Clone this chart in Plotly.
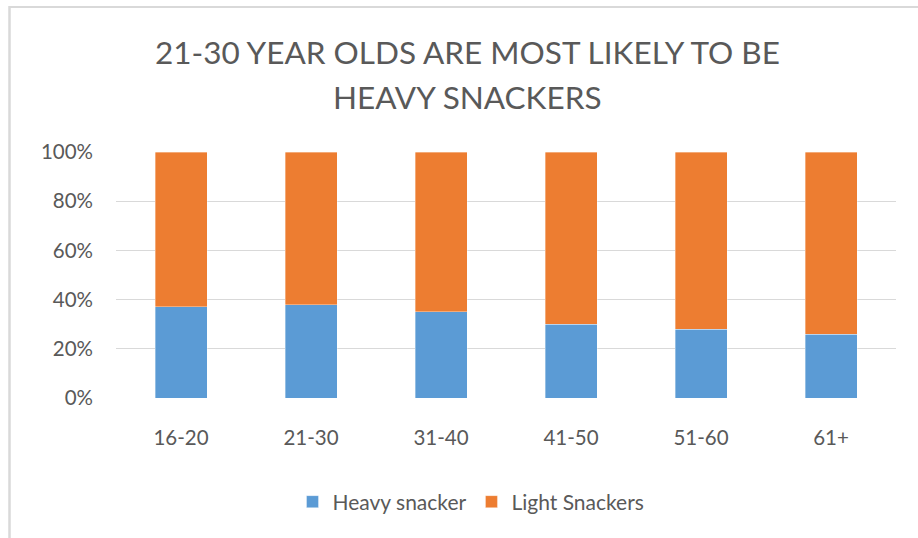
import plotly.graph_objects as go

categories = ["16-20", "21-30", "31-40", "41-50", "51-60", "61+"]
heavy = [37, 38, 35, 30, 28, 26]
light = [63, 62, 65, 70, 72, 74]
tick_vals = [0, 20, 40, 60, 80, 100]
tick_text = ["0%", "20%", "40%", "60%", "80%", "100%"]
title_lines = ["21-30 YEAR OLDS ARE MOST LIKELY TO BE", "HEAVY SNACKERS"]

W, H = 918, 538
L, R, T, B = 116, 22, 152, 140
pw, ph = W - L - R, H - T - B

def px(x):
    return (x - L) / pw

def py(y):
    return (H - B - y) / ph

font = "Lato, Carlito, Calibri, sans-serif"
grey = "#595959"

fig = go.Figure()
fig.add_trace(go.Bar(x=categories, y=heavy, name="Heavy snacker",
                     marker=dict(color="#5B9BD5", line=dict(color="rgba(255,255,255,0.5)", width=0.7))))
fig.add_trace(go.Bar(x=categories, y=light, name="Light Snackers",
                     marker=dict(color="#ED7D31", line=dict(color="rgba(255,255,255,0.5)", width=0.7))))

annotations = []
for i, line in enumerate(title_lines):
    annotations.append(dict(text=line, xref="paper", yref="paper",
                            x=px(467), y=py(52 + 45 * i), xanchor="center", yanchor="middle",
                            showarrow=False, font=dict(family=font, size=31.5, color=grey)))

fig.update_layout(
    width=W, height=H,
    barmode="stack", bargap=0.6,
    paper_bgcolor="white", plot_bgcolor="white",
    margin=dict(l=L, r=R, t=T, b=B),
    font=dict(family=font, color=grey),
    showlegend=True,
    legend=dict(orientation="h", x=471 / W, xanchor="center", xref="container",
                y=1 - 502 / H, yref="container", yanchor="middle",
                font=dict(family=font, size=21, color=grey),
                itemwidth=30, traceorder="normal"),
    xaxis=dict(showgrid=False, showline=False, ticks="",
               tickfont=dict(family=font, size=20.5, color=grey)),
    yaxis=dict(range=[0, 100], tickvals=tick_vals, ticktext=tick_text,
               showgrid=True, gridcolor="#D9D9D9", gridwidth=1.4,
               zeroline=False, showline=False, ticks="",
               tickfont=dict(family=font, size=20.5, color=grey)),
    annotations=annotations,
    shapes=[
        dict(type="line", xref="paper", yref="paper",
             x0=px(9), x1=px(W + 5), y0=py(7), y1=py(7),
             line=dict(color="#D9D9D9", width=2)),
        dict(type="line", xref="paper", yref="paper",
             x0=px(9.5), x1=px(9.5), y0=py(6), y1=py(H + 5),
             line=dict(color="#D9D9D9", width=2.5)),
    ],
)
fig.update_xaxes(ticklabelstandoff=25)
fig.update_yaxes(ticklabelstandoff=22)
fig.write_html("out.html")
